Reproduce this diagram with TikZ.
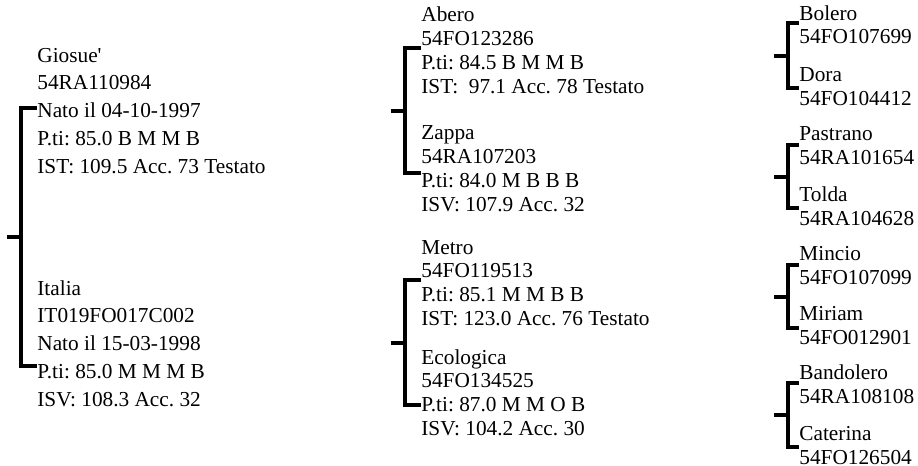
\documentclass[tikz,border=0pt]{standalone}
\usepackage{fontspec}
\setmainfont{Liberation Serif}
\usetikzlibrary{calc}
\frenchspacing

\begin{document}
\begin{tikzpicture}[x=0.5pt,y=-0.5pt,
  horse/.style={anchor=base west,align=left,inner sep=0pt,font=\fontsize{10.65}{13.95}\selectfont},
  horsesm/.style={horse,font=\fontsize{10.65}{11.9}\selectfont},
  brk/.style={line width=2pt}]
\useasboundingbox (0,0) rectangle (918,466);
% parents (placed by the baseline of the last line)
\node[horse] (giosue) at (37,173.6) {Giosue\textquotesingle\\54RA110984\\Nato il 04-10-1997\\P.ti: 85.0 B M M B\\IST: 109.5 Acc. 73 Testato};
\node[horse] (italia) at (37,406.6) {Italia\\IT019FO017C002\\Nato il 15-03-1998\\P.ti: 85.0 M M M B\\ISV: 108.3 Acc. 32};
% grandparents
\node[horsesm] (abero) at (421,93.4) {Abero\\54FO123286\\P.ti: 84.5 B M M B\\IST:~~97.1 Acc. 78 Testato};
\node[horsesm] (zappa) at (421,211.4) {Zappa\\54RA107203\\P.ti: 84.0 M B B B\\ISV: 107.9 Acc. 32};
\node[horsesm] (metro) at (421,325.4) {Metro\\54FO119513\\P.ti: 85.1 M M B B\\IST: 123.0 Acc. 76 Testato};
\node[horsesm] (ecologica) at (421,435.4) {Ecologica\\54FO134525\\P.ti: 87.0 M M O B\\ISV: 104.2 Acc. 30};
% great-grandparents
\node[horsesm] (bolero) at (799,44) {Bolero\\54FO107699};
\node[horsesm] (dora) at (799,105) {Dora\\54FO104412};
\node[horsesm] (pastrano) at (799,164) {Pastrano\\54RA101654};
\node[horsesm] (tolda) at (799,225) {Tolda\\54RA104628};
\node[horsesm] (mincio) at (799,284) {Mincio\\54FO107099};
\node[horsesm] (miriam) at (799,344) {Miriam\\54FO012901};
\node[horsesm] (bandolero) at (799,403) {Bandolero\\54RA108108};
\node[horsesm] (caterina) at (799,464) {Caterina\\54FO126504};
% brackets
\foreach \s/\d/\x/\t/\b in {giosue/italia/21/108/366, abero/zappa/405/48/173,
    metro/ecologica/405/280/405, bolero/dora/788/23/88, pastrano/tolda/788/145/208,
    mincio/miriam/788/265/328, bandolero/caterina/788/383/447}{
  \coordinate (t) at (\x,\t);
  \coordinate (b) at (\x,\b);
  \draw[brk] (\s.west |- t) -- (t) -- (b) -- (\d.west |- b);
  \draw[brk] ($(t)!.5!(b)$) -- ++(-14,0);
}
\end{tikzpicture}
\end{document}
